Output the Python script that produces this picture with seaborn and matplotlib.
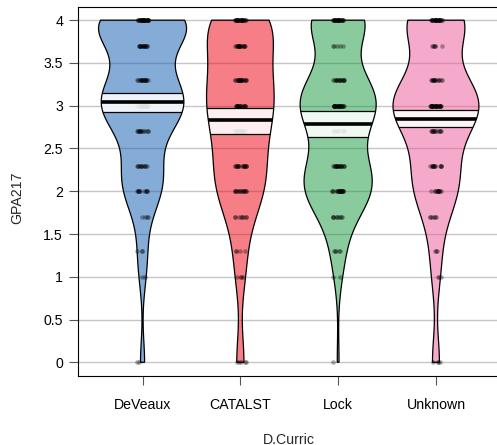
import numpy as np
import pandas as pd
import matplotlib
matplotlib.use("Agg")
import matplotlib.pyplot as plt
import seaborn as sns
from matplotlib.colors import to_rgba
from matplotlib.patches import PathPatch, Rectangle

# Grade counts per curriculum
curricula = ["DeVeaux", "CATALST", "Lock", "Unknown"]
grades = [0.0, 1.0, 1.3, 1.7, 2.0, 2.3, 2.7, 3.0, 3.3, 3.7, 4.0]
counts_deveaux = [2, 2, 3, 4, 11, 11, 13, 25, 17, 16, 33]
counts_catalst = [5, 4, 4, 8, 15, 17, 18, 19, 21, 18, 27]
counts_lock = [1, 2, 5, 9, 22, 18, 12, 27, 16, 5, 27]
counts_unknown = [4, 3, 3, 6, 13, 13, 13, 32, 14, 6, 28]

# Inference band around each mean
band_low = [2.932, 2.670, 2.630, 2.757]
band_high = [3.154, 2.971, 2.940, 2.947]

palette = ["#0C5BB0", "#EE0011", "#15983D", "#EC579A"]

counts = [counts_deveaux, counts_catalst, counts_lock, counts_unknown]
df = pd.concat(
    [pd.DataFrame({"D.Curric": name, "GPA217": np.repeat(grades, c)})
     for name, c in zip(curricula, counts)],
    ignore_index=True,
)
groups = [df.loc[df["D.Curric"] == name, "GPA217"].to_numpy() for name in curricula]
means = [g.mean() for g in groups]


def nrd0(x):
    """Silverman's rule of thumb, as in R's bw.nrd0."""
    q1, q3 = np.percentile(x, [25, 75])
    spread = min(np.std(x, ddof=1), (q3 - q1) / 1.34)
    return 0.9 * spread * len(x) ** -0.2


def kde_peak(x, bw):
    grid = np.linspace(x.min(), x.max(), 512)
    dens = np.exp(-0.5 * ((grid[:, None] - x[None, :]) / bw) ** 2).sum(axis=1)
    return (dens / (len(x) * bw * np.sqrt(2 * np.pi))).max()


bws = [nrd0(g) for g in groups]
peaks = [kde_peak(g, b) for g, b in zip(groups, bws)]
max_half = 0.45

sns.set_style("white")
plt.rcParams["font.family"] = ["Liberation Sans", "DejaVu Sans"]
fs = 10.2

fig = plt.figure(figsize=(4.97, 4.45), dpi=100)
ax = fig.add_axes([78 / 497, 69 / 445, 422.5 / 497, 369.5 / 445])

yticks = np.arange(0, 4.01, 0.5)
for yv in yticks:
    ax.axhline(yv, color="#c6c6c6", lw=1.0, zorder=0)

# Beans share one density scale: each is sized by its peak density
violins = []
for name, g, bw, pk, col in zip(curricula, groups, bws, peaks, palette):
    sub = df[df["D.Curric"] == name]
    n0 = len(ax.collections)
    sns.violinplot(
        data=sub, x="D.Curric", y="GPA217", order=curricula, color=col,
        saturation=1, cut=0, inner=None, density_norm="width",
        width=2 * max_half * pk / max(peaks),
        bw_method=bw / np.std(g, ddof=1), linewidth=0.9, linecolor="black",
        ax=ax,
    )
    coll = ax.collections[n0]
    coll.set_facecolor(to_rgba(col, 0.5))
    coll.set_edgecolor("none")
    coll.set_zorder(1)
    violins.append(coll)

np.random.seed(11)
sns.stripplot(
    data=df, x="D.Curric", y="GPA217", order=curricula, color="black",
    alpha=0.32, size=3.3, jitter=0.06, linewidth=0, ax=ax, zorder=2,
)

for i, coll in enumerate(violins):
    path = coll.get_paths()[0]
    band = Rectangle((i - 0.5, band_low[i]), 1.0, band_high[i] - band_low[i],
                     facecolor="white", alpha=0.88, edgecolor="none", zorder=3)
    ax.add_patch(band)
    band.set_clip_path(path, ax.transData)
    edges = ax.hlines([band_low[i], band_high[i]], i - 0.5, i + 0.5,
                      color="black", lw=0.9, zorder=4)
    edges.set_clip_path(path, ax.transData)
    avg = ax.hlines(means[i], i - 0.5, i + 0.5, color="black", lw=2.6, zorder=5)
    avg.set_clip_path(path, ax.transData)
    ax.add_patch(PathPatch(path, facecolor="none", edgecolor="black",
                           lw=0.9, zorder=6))

ax.set_xlim(-0.66, 3.66)
ax.set_ylim(-0.16, 4.16)
ax.set_yticks(yticks)
ax.set_yticklabels([f"{v:g}" for v in yticks])

for s in ax.spines.values():
    s.set_visible(True)
    s.set_color("black")
    s.set_linewidth(0.8)

ax.tick_params(axis="both", direction="out", length=6.5, width=0.8,
               color="#555555", labelsize=fs, labelcolor="black",
               bottom=True, left=True)
ax.tick_params(axis="x", pad=9.5)
ax.tick_params(axis="y", pad=4.3)

ax.set_xlabel("D.Curric", fontsize=fs)
ax.set_ylabel("GPA217", fontsize=fs)
ax.xaxis.set_label_coords(0.5, -0.153)
ax.yaxis.set_label_coords(-0.128, 0.482)

fig.savefig("out.png", dpi=100)
